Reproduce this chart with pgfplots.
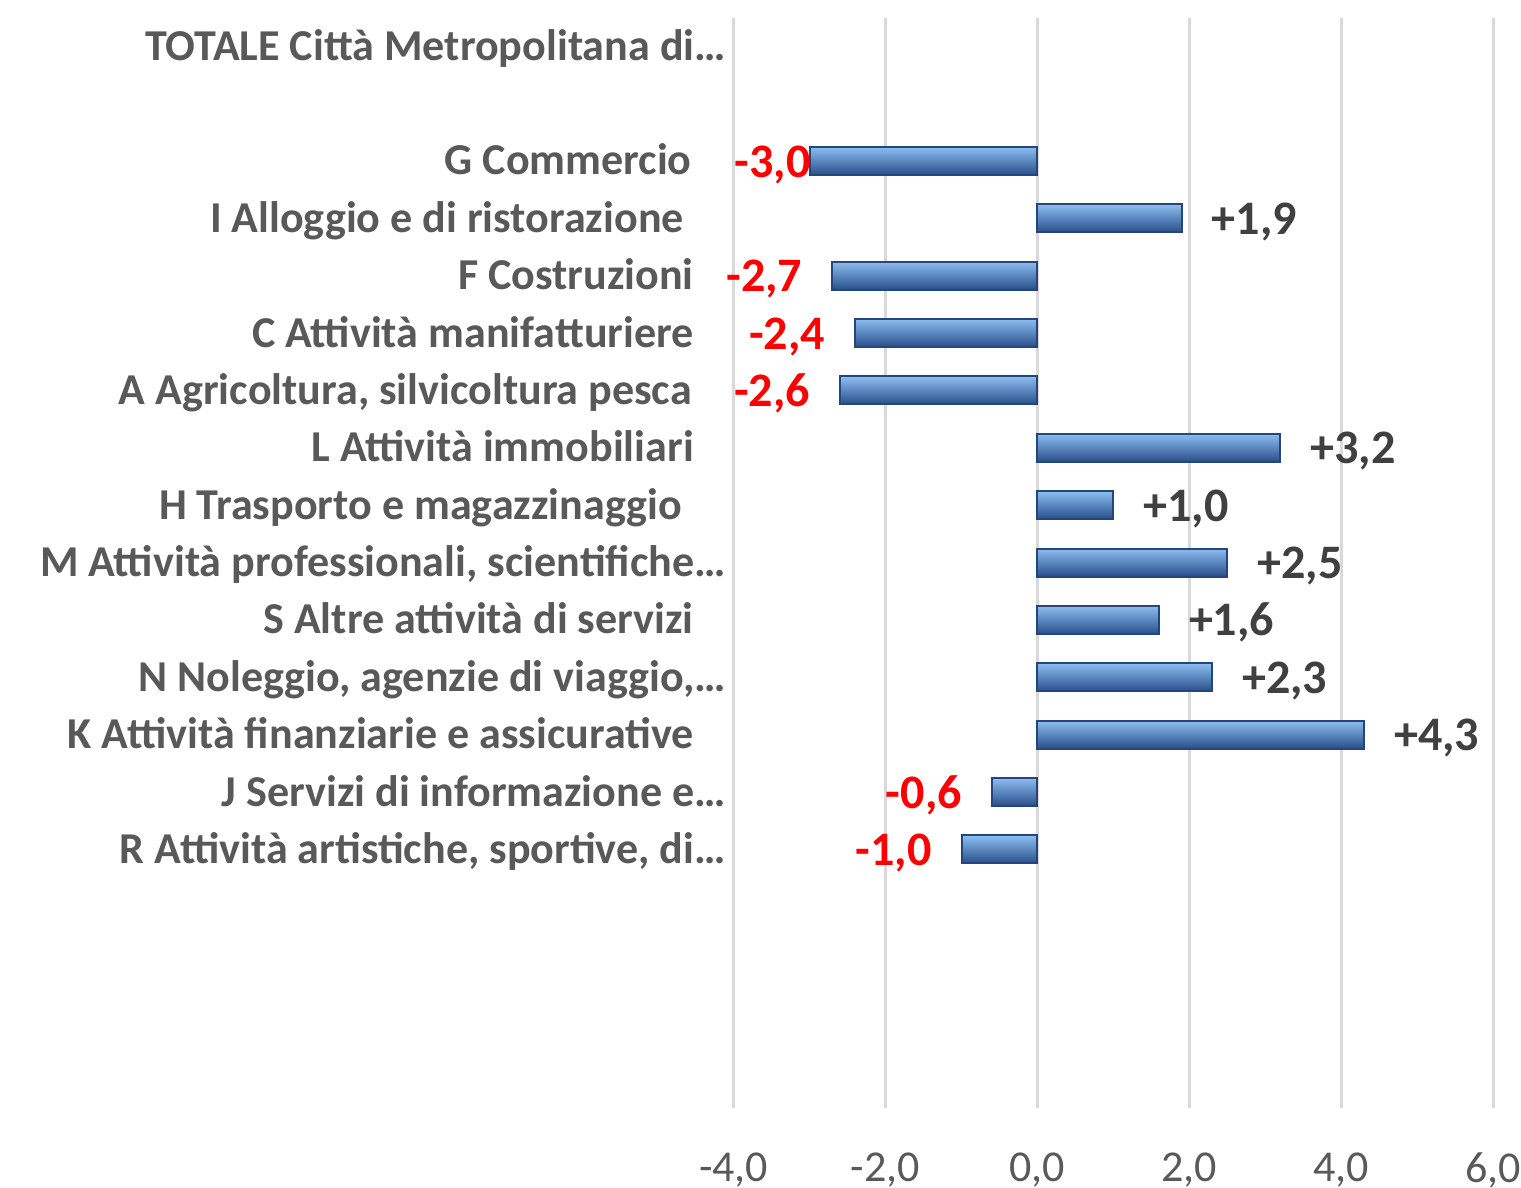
\documentclass[border=0pt]{standalone}
\usepackage{pgfplots}
\pgfplotsset{compat=1.18}
\usepackage{fontspec}
\setmainfont{Carlito}
\definecolor{labelgrey}{RGB}{89,89,89}
\definecolor{valgrey}{RGB}{64,64,64}
\definecolor{gridgrey}{RGB}{217,217,217}
\definecolor{barlight}{RGB}{140,190,240}
\definecolor{barmid}{RGB}{70,128,200}
\definecolor{bardark}{RGB}{40,78,138}
\definecolor{baredge}{RGB}{38,70,122}

\begin{document}
\begin{tikzpicture}
\begin{axis}[
    xbar, bar width=7pt, bar shift=0pt,
    scale only axis, width=189.5pt, height=272pt,
    xmin=-4, xmax=6, xtick={-4,-2,0,2,4,6},
    ymin=-0.5, ymax=18.5, y dir=reverse,
    ytick={0,2,3,4,5,6,7,8,9,10,11,12,13,14},
    yticklabels={
        {TOTALE Città Metropolitana di…},
        {G Commercio\hspace*{8.5pt}},
        {I Alloggio e di ristorazione\hspace*{10.5pt}},
        {F Costruzioni\hspace*{8pt}},
        {C Attività manifatturiere\hspace*{8pt}},
        {A Agricoltura, silvicoltura pesca\hspace*{8.5pt}},
        {L Attività immobiliari\hspace*{8pt}},
        {H Trasporto e magazzinaggio\hspace*{11pt}},
        {M Attività professionali, scientifiche…},
        {S Altre attività di servizi\hspace*{8pt}},
        {N Noleggio, agenzie di viaggio,…},
        {K Attività finanziarie e assicurative\hspace*{8pt}},
        {J Servizi di informazione e…},
        {R Attività artistiche, sportive, di…}},
    yticklabel style={font=\fontsize{11}{13}\selectfont\bfseries, text=labelgrey,
        inner sep=0pt, anchor=base east, xshift=2.5pt, yshift=-3.5pt},
    xticklabel style={font=\fontsize{11}{13}\selectfont, text=labelgrey,
        inner sep=0pt, anchor=north, yshift=-11pt,
        /pgf/number format/.cd, fixed, fixed zerofill, precision=1, use comma, assume math mode=true},
    xmajorgrids, grid style={gridgrey, line width=0.75pt},
    axis line style={draw=none}, tick style={draw=none},
    point meta=x,
    nodes near coords={\pgfmathprintnumber[fixed,fixed zerofill,precision=1,use comma,showpos,assume math mode=true]{\pgfplotspointmeta}},
    every node near coord/.append style={font=\fontsize{12}{14}\selectfont\bfseries, inner sep=0pt},
    bars/.style={draw=baredge, line width=0.5pt, top color=barlight, middle color=barmid, bottom color=bardark},
    pos/.style={bars, every node near coord/.append style={text=valgrey, anchor=base west, xshift=7.25pt, yshift=-4pt}},
    neg/.style={bars, every node near coord/.append style={text=red, anchor=base east, xshift=-7.25pt, yshift=-4pt}},
]
% one plot per bar so that each bar gets its own shading
\addplot[bars, every node near coord/.append style={text=red, anchor=base east, xshift=0.5pt, yshift=-4pt}]
    coordinates {(-3.0,2)};   % G Commercio
\addplot[pos] coordinates {(1.9,3)};   % I
\addplot[neg] coordinates {(-2.7,4)};  % F
\addplot[neg] coordinates {(-2.4,5)};  % C
\addplot[neg] coordinates {(-2.6,6)};  % A
\addplot[pos] coordinates {(3.2,7)};   % L
\addplot[pos] coordinates {(1.0,8)};   % H
\addplot[pos] coordinates {(2.5,9)};   % M
\addplot[pos] coordinates {(1.6,10)};  % S
\addplot[pos] coordinates {(2.3,11)};  % N
\addplot[pos] coordinates {(4.3,12)};  % K
\addplot[neg] coordinates {(-0.6,13)}; % J
\addplot[neg] coordinates {(-1.0,14)}; % R
\end{axis}
\path (current bounding box.south west) ++(-10pt,0);
\path (current bounding box.north east) ++(0,4pt);
\end{tikzpicture}
\end{document}
